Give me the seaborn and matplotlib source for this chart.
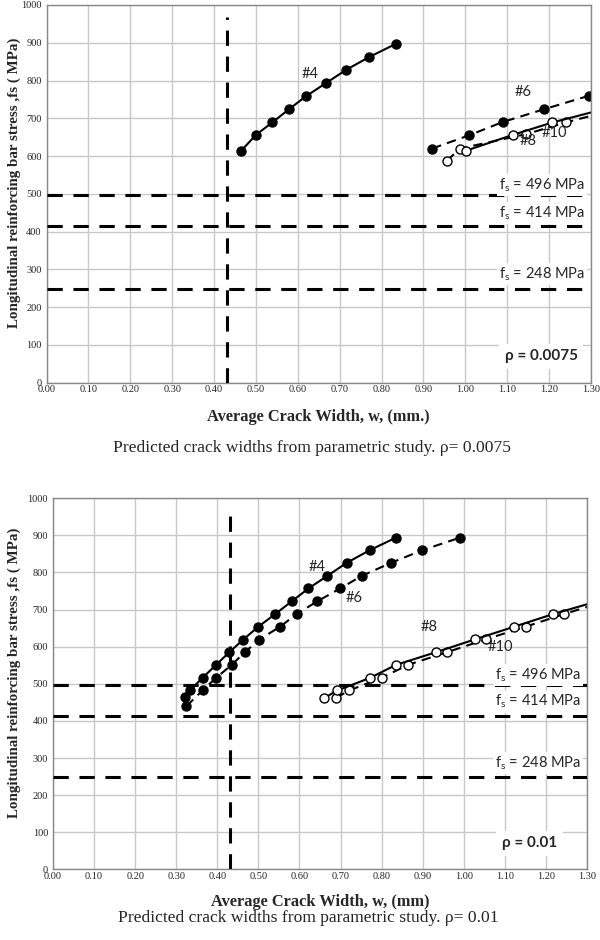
import matplotlib
matplotlib.use("Agg")
import matplotlib.pyplot as plt
import seaborn as sns
from matplotlib.ticker import FormatStrFormatter, MultipleLocator

# ---- data (crack width mm, steel stress MPa) ----
# rho = 0.0075
top_w4 = [0.464, 0.500, 0.539, 0.579, 0.619, 0.667, 0.715, 0.770, 0.834]
top_f4 = [613, 656, 689, 724, 758, 793, 828, 862, 897]
top_w6 = [0.921, 1.009, 1.089, 1.188, 1.296]
top_f6 = [620, 655, 690, 724, 760]
top_w8 = [1.001, 1.113, 1.208, 1.330]
top_f8 = [614, 656, 689, 724]
top_w10 = [0.956, 0.988, 1.145, 1.240, 1.360]
top_f10 = [588, 620, 658, 689, 724]

# rho = 0.01
bot_w4 = [0.322, 0.334, 0.364, 0.397, 0.429, 0.463, 0.500, 0.541, 0.581, 0.622, 0.668, 0.715, 0.771, 0.835]
bot_f4 = [465, 483, 516, 551, 585, 619, 654, 688, 722, 757, 791, 826, 860, 894]
bot_w6 = [0.325, 0.365, 0.397, 0.435, 0.467, 0.502, 0.553, 0.593, 0.643, 0.699, 0.752, 0.823, 0.899, 0.991]
bot_f6 = [440, 483, 516, 551, 585, 619, 654, 688, 722, 757, 791, 826, 860, 894]
bot_w8 = [0.661, 0.692, 0.772, 0.835, 0.932, 1.028, 1.123, 1.218, 1.330]
bot_f8 = [462, 482, 516, 551, 585, 620, 654, 688, 724]
bot_w10 = [0.689, 0.721, 0.800, 0.864, 0.959, 1.054, 1.151, 1.244, 1.350]
bot_f10 = [462, 482, 516, 551, 585, 620, 654, 688, 724]

fs_limits = [496, 414, 248]
w_limit = 0.43

sns.set_style("white")
plt.rcParams['font.family'] = ['Liberation Serif', 'DejaVu Serif']
LBL = ['Lato', 'DejaVu Sans']

fig = plt.figure(figsize=(6, 9.4), dpi=100)
ax1 = fig.add_axes([0.0775, 0.5929, 0.9075, 0.4018])
ax2 = fig.add_axes([0.0883, 0.0752, 0.8900, 0.3947])


def draw_series(ax, w, f, dashed, filled):
    kw = dict(color='black', linewidth=1.5, marker='o', markersize=6.5,
              markeredgecolor='black', markeredgewidth=1.0,
              markerfacecolor='black' if filled else 'white')
    if dashed:
        kw['dashes'] = (4.5, 3)
    sns.lineplot(x=w, y=f, ax=ax, sort=False, estimator=None, **kw)


def setup(ax, xlabel, rho_txt, rho_pos, fs_pos, xlab_y, ylab_x):
    ax.set_xlim(0, 1.3)
    ax.set_ylim(0, 1000)
    ax.xaxis.set_major_locator(MultipleLocator(0.1))
    ax.yaxis.set_major_locator(MultipleLocator(100))
    ax.xaxis.set_major_formatter(FormatStrFormatter('%.2f'))
    ax.grid(True, color='#c8c8c8', linewidth=1.0)
    ax.set_axisbelow(True)
    for s in ax.spines.values():
        s.set_color('#888888')
        s.set_linewidth(1.0)
    ax.tick_params(axis='y', labelsize=7.5, length=0, pad=3.5)
    ax.tick_params(axis='x', labelsize=7.5, length=0, pad=2)
    ax.set_xlabel(xlabel, fontsize=11.8, fontweight='bold')
    ax.xaxis.set_label_coords(0.5, xlab_y)
    ax.set_ylabel('Longitudinal reinforcing bar stress ,fs ( MPa)',
                  fontsize=10.8, fontweight='bold')
    ax.yaxis.set_label_coords(ylab_x, 0.529)
    for fs in fs_limits:
        ax.axhline(fs, color='black', linewidth=2.2,
                   dashes=(5, 3.5), zorder=3)
    ax.axvline(w_limit, ymax=0.968, color='black', linewidth=2.2,
               dashes=(5, 3.5), zorder=3)
    for fs, ypos in zip(fs_limits, fs_pos):
        ax.text(1.285, ypos, r'f$_\mathregular{s}$ = %d MPa' % fs, ha='right',
                va='center', fontsize=10.5, family=LBL, zorder=4,
                bbox=dict(facecolor='white', edgecolor='none', pad=1.5))
    ax.text(rho_pos[0], rho_pos[1], rho_txt, ha='center', va='center',
            fontsize=11, fontweight='bold', family=LBL, zorder=4,
            bbox=dict(facecolor='white', edgecolor='none', pad=4))


# top panel
setup(ax1, 'Average Crack Width, w, (mm.)', '\u03c1 = 0.0075', (1.181, 70),
      (524, 450, 287), -0.069, -0.047)
draw_series(ax1, top_w4, top_f4, False, True)
draw_series(ax1, top_w6, top_f6, True, True)
draw_series(ax1, top_w10, top_f10, True, False)
draw_series(ax1, top_w8, top_f8, False, False)
ax1.text(0.629, 817, '#4', fontsize=10.5, family=LBL, ha='center', va='center')
ax1.text(1.139, 770, '#6', fontsize=10.5, family=LBL, ha='center', va='center')
ax1.text(1.151, 640, '#8', fontsize=10.5, family=LBL, ha='center', va='center')
ax1.text(1.213, 660, '#10', fontsize=10.5, family=LBL, ha='center', va='center')

# bottom panel
setup(ax2, 'Average Crack Width, w, (mm)', '\u03c1 = 0.01', (1.16, 70),
      (524, 452, 287), -0.066, -0.060)
draw_series(ax2, bot_w4, bot_f4, False, True)
draw_series(ax2, bot_w6, bot_f6, True, True)
draw_series(ax2, bot_w10, bot_f10, True, False)
draw_series(ax2, bot_w8, bot_f8, False, False)
ax2.text(0.642, 816, '#4', fontsize=10.5, family=LBL, ha='center', va='center')
ax2.text(0.734, 730, '#6', fontsize=10.5, family=LBL, ha='center', va='center')
ax2.text(0.916, 654, '#8', fontsize=10.5, family=LBL, ha='center', va='center')
ax2.text(1.088, 598, '#10', fontsize=10.5, family=LBL, ha='center', va='center')

fig.text(0.52, 0.5234, 'Predicted crack widths from parametric study. \u03c1= 0.0075',
         ha='center', va='center', fontsize=12.6)
fig.text(0.514, 0.0234, 'Predicted crack widths from parametric study. \u03c1= 0.01',
         ha='center', va='center', fontsize=12.6)

fig.savefig('out.png', dpi=100)
